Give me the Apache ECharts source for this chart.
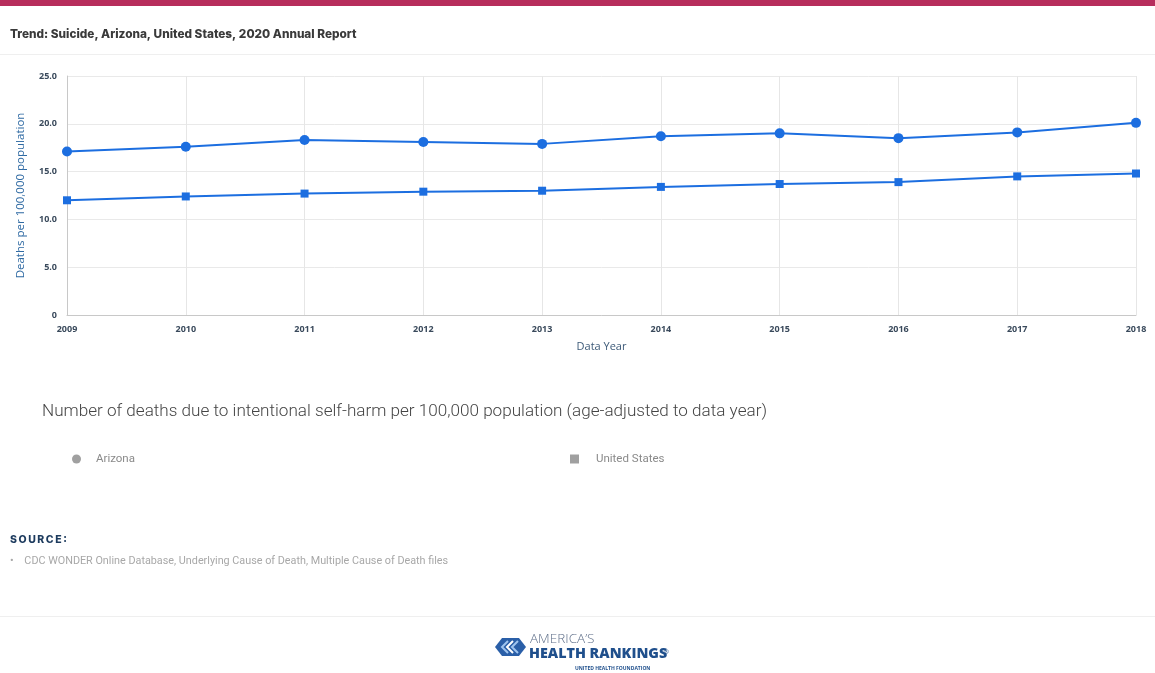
<!DOCTYPE html>
<html>
<head>
<meta charset="utf-8">
<script src="https://cdn.jsdelivr.net/npm/echarts@6/dist/echarts.min.js"></script>
<style>
  html, body { margin: 0; padding: 0; background: #ffffff; }
  #chart { width: 1155px; height: 673px; }
</style>
</head>
<body>
<div id="chart"></div>
<script>
// Age-adjusted suicide rate per 100,000 population, by data year
const years = ['2009', '2010', '2011', '2012', '2013', '2014', '2015', '2016', '2017', '2018'];
const arizona = [17.1, 17.6, 18.3, 18.1, 17.9, 18.7, 19.0, 18.5, 19.1, 20.1];
const unitedStates = [12.0, 12.4, 12.7, 12.9, 13.0, 13.4, 13.7, 13.9, 14.5, 14.8];
const yTicks = [0, 5, 10, 15, 20, 25];

const lineBlue = '#1c6ee0';
const chart = echarts.init(document.getElementById('chart'), null, { renderer: 'canvas' });

const option = {
  backgroundColor: '#ffffff',
  animation: false,
  title: [
    {
      text: 'Trend: Suicide, Arizona, United States, 2020 Annual Report',
      left: 5, top: 23,
      textStyle: { fontFamily: 'Inter', fontWeight: 800, fontSize: 11.8, color: '#3a3a3a' }
    },
    {
      text: 'Number of deaths due to intentional self-harm per 100,000 population (age-adjusted to data year)',
      left: 37, top: 398,
      textStyle: { fontFamily: 'Roboto', fontWeight: 300, fontSize: 17.1, color: '#444444' }
    },
    {
      text: 'S\u2009O\u2009U\u2009R\u2009C\u2009E\u2009:',
      left: 5, top: 529,
      textStyle: { fontFamily: 'Inter', fontWeight: 800, fontSize: 10.5, color: '#1d3b5e' }
    },
    {
      text: '\u2022    CDC WONDER Online Database, Underlying Cause of Death, Multiple Cause of Death files',
      left: 5, top: 551,
      textStyle: { fontFamily: 'Roboto', fontWeight: 400, fontSize: 10.8, color: '#a8a8a8' }
    }
  ],
  legend: [
    {
      data: [{ name: 'Arizona', icon: 'circle' }],
      left: 67, top: 448,
      itemWidth: 9, itemHeight: 9, itemGap: 10,
      itemStyle: { color: '#a0a0a0' },
      textStyle: { fontFamily: 'Roboto', fontSize: 11.5, color: '#8a8a8a', padding: [0, 0, 0, 10] },
      selectedMode: false
    },
    {
      data: [{ name: 'United States', icon: 'rect' }],
      left: 565, top: 448,
      itemWidth: 9, itemHeight: 9, itemGap: 10,
      itemStyle: { color: '#a0a0a0' },
      textStyle: { fontFamily: 'Roboto', fontSize: 11.5, color: '#8a8a8a', padding: [0, 0, 0, 12] },
      selectedMode: false
    }
  ],
  grid: { left: 67, right: 19, top: 76, bottom: 358, containLabel: false },
  xAxis: {
    type: 'category',
    data: years,
    boundaryGap: false,
    name: 'Data Year',
    nameLocation: 'middle',
    nameGap: 26,
    nameTextStyle: { fontFamily: 'Open Sans', fontSize: 11, color: '#3d5a78' },
    axisLine: { lineStyle: { color: '#c8c8c8', width: 1 } },
    axisTick: { show: false },
    axisLabel: {
      fontFamily: 'Open Sans', fontWeight: 700, fontSize: 9, color: '#3a4a5c', margin: 10,
      alignMinLabel: 'center', alignMaxLabel: 'center'
    },
    splitLine: { show: true, lineStyle: { color: '#e6e6e6', width: 1 } }
  },
  yAxis: {
    type: 'value',
    min: 0, max: 25, interval: 5,
    name: 'Deaths per 100,000 population',
    nameLocation: 'middle',
    nameGap: 40,
    nameTextStyle: { fontFamily: 'Open Sans', fontSize: 11.5, color: '#2f6aa3' },
    axisLine: { show: true, lineStyle: { color: '#c8c8c8', width: 1 } },
    axisTick: { show: false },
    axisLabel: {
      fontFamily: 'Open Sans', fontWeight: 700, fontSize: 9, color: '#3a4a5c', margin: 10,
      formatter: v => (yTicks.includes(v) ? (v === 0 ? '0' : v.toFixed(1)) : '')
    },
    splitLine: { show: true, lineStyle: { color: '#e9e9e9', width: 1 } }
  },
  series: [
    {
      name: 'Arizona', type: 'line', data: arizona,
      symbol: 'circle', symbolSize: 10,
      lineStyle: { color: lineBlue, width: 2 },
      itemStyle: { color: lineBlue },
      z: 3
    },
    {
      name: 'United States', type: 'line', data: unitedStates,
      symbol: 'rect', symbolSize: 8,
      lineStyle: { color: lineBlue, width: 2 },
      itemStyle: { color: lineBlue },
      z: 3
    }
  ],
  graphic: [
    // crimson header band
    { type: 'rect', left: 0, top: 0, shape: { width: 1155, height: 6 }, style: { fill: '#b72d5c' }, silent: true },
    // rules under the header and above the footer
    { type: 'rect', left: 0, top: 54, shape: { width: 1155, height: 1 }, style: { fill: '#efefef' }, silent: true },
    { type: 'rect', left: 0, top: 616, shape: { width: 1155, height: 1 }, style: { fill: '#efefef' }, silent: true },
    // footer logo mark: hexagon with chevrons
    {
      type: 'group', left: 495, top: 638,
      children: [
        { type: 'polygon', shape: { points: [[0, 9], [7, 0], [24, 0], [31, 9], [24, 18], [7, 18]] }, style: { fill: '#2a5fa8' } },
        { type: 'polyline', shape: { points: [[13, 3], [7, 9], [13, 15]] }, style: { stroke: '#9fc4ee', lineWidth: 2, fill: null } },
        { type: 'polyline', shape: { points: [[18, 3], [12, 9], [18, 15]] }, style: { stroke: '#ffffff', lineWidth: 2, fill: null } },
        { type: 'polyline', shape: { points: [[23, 3], [17, 9], [23, 15]] }, style: { stroke: '#9fc4ee', lineWidth: 2, fill: null } }
      ]
    },
    { type: 'text', left: 530, top: 632, style: { text: 'AMERICA\u2019S', font: '300 13.5px "Open Sans"', fill: '#60708a' } },
    { type: 'text', left: 529, top: 647, style: { text: 'HEALTH RANKINGS', font: '800 14.3px "Open Sans"', fill: '#1f4f8c' } },
    { type: 'text', left: 664, top: 649, style: { text: '\u00ae', font: '6px "Open Sans"', fill: '#1f4f8c' } },
    { type: 'text', left: 575, top: 666, style: { text: 'UNITED HEALTH FOUNDATION', font: '700 5px "Open Sans"', fill: '#1f4f8c' } }
  ]
};

chart.setOption(option);
</script>
</body>
</html>
